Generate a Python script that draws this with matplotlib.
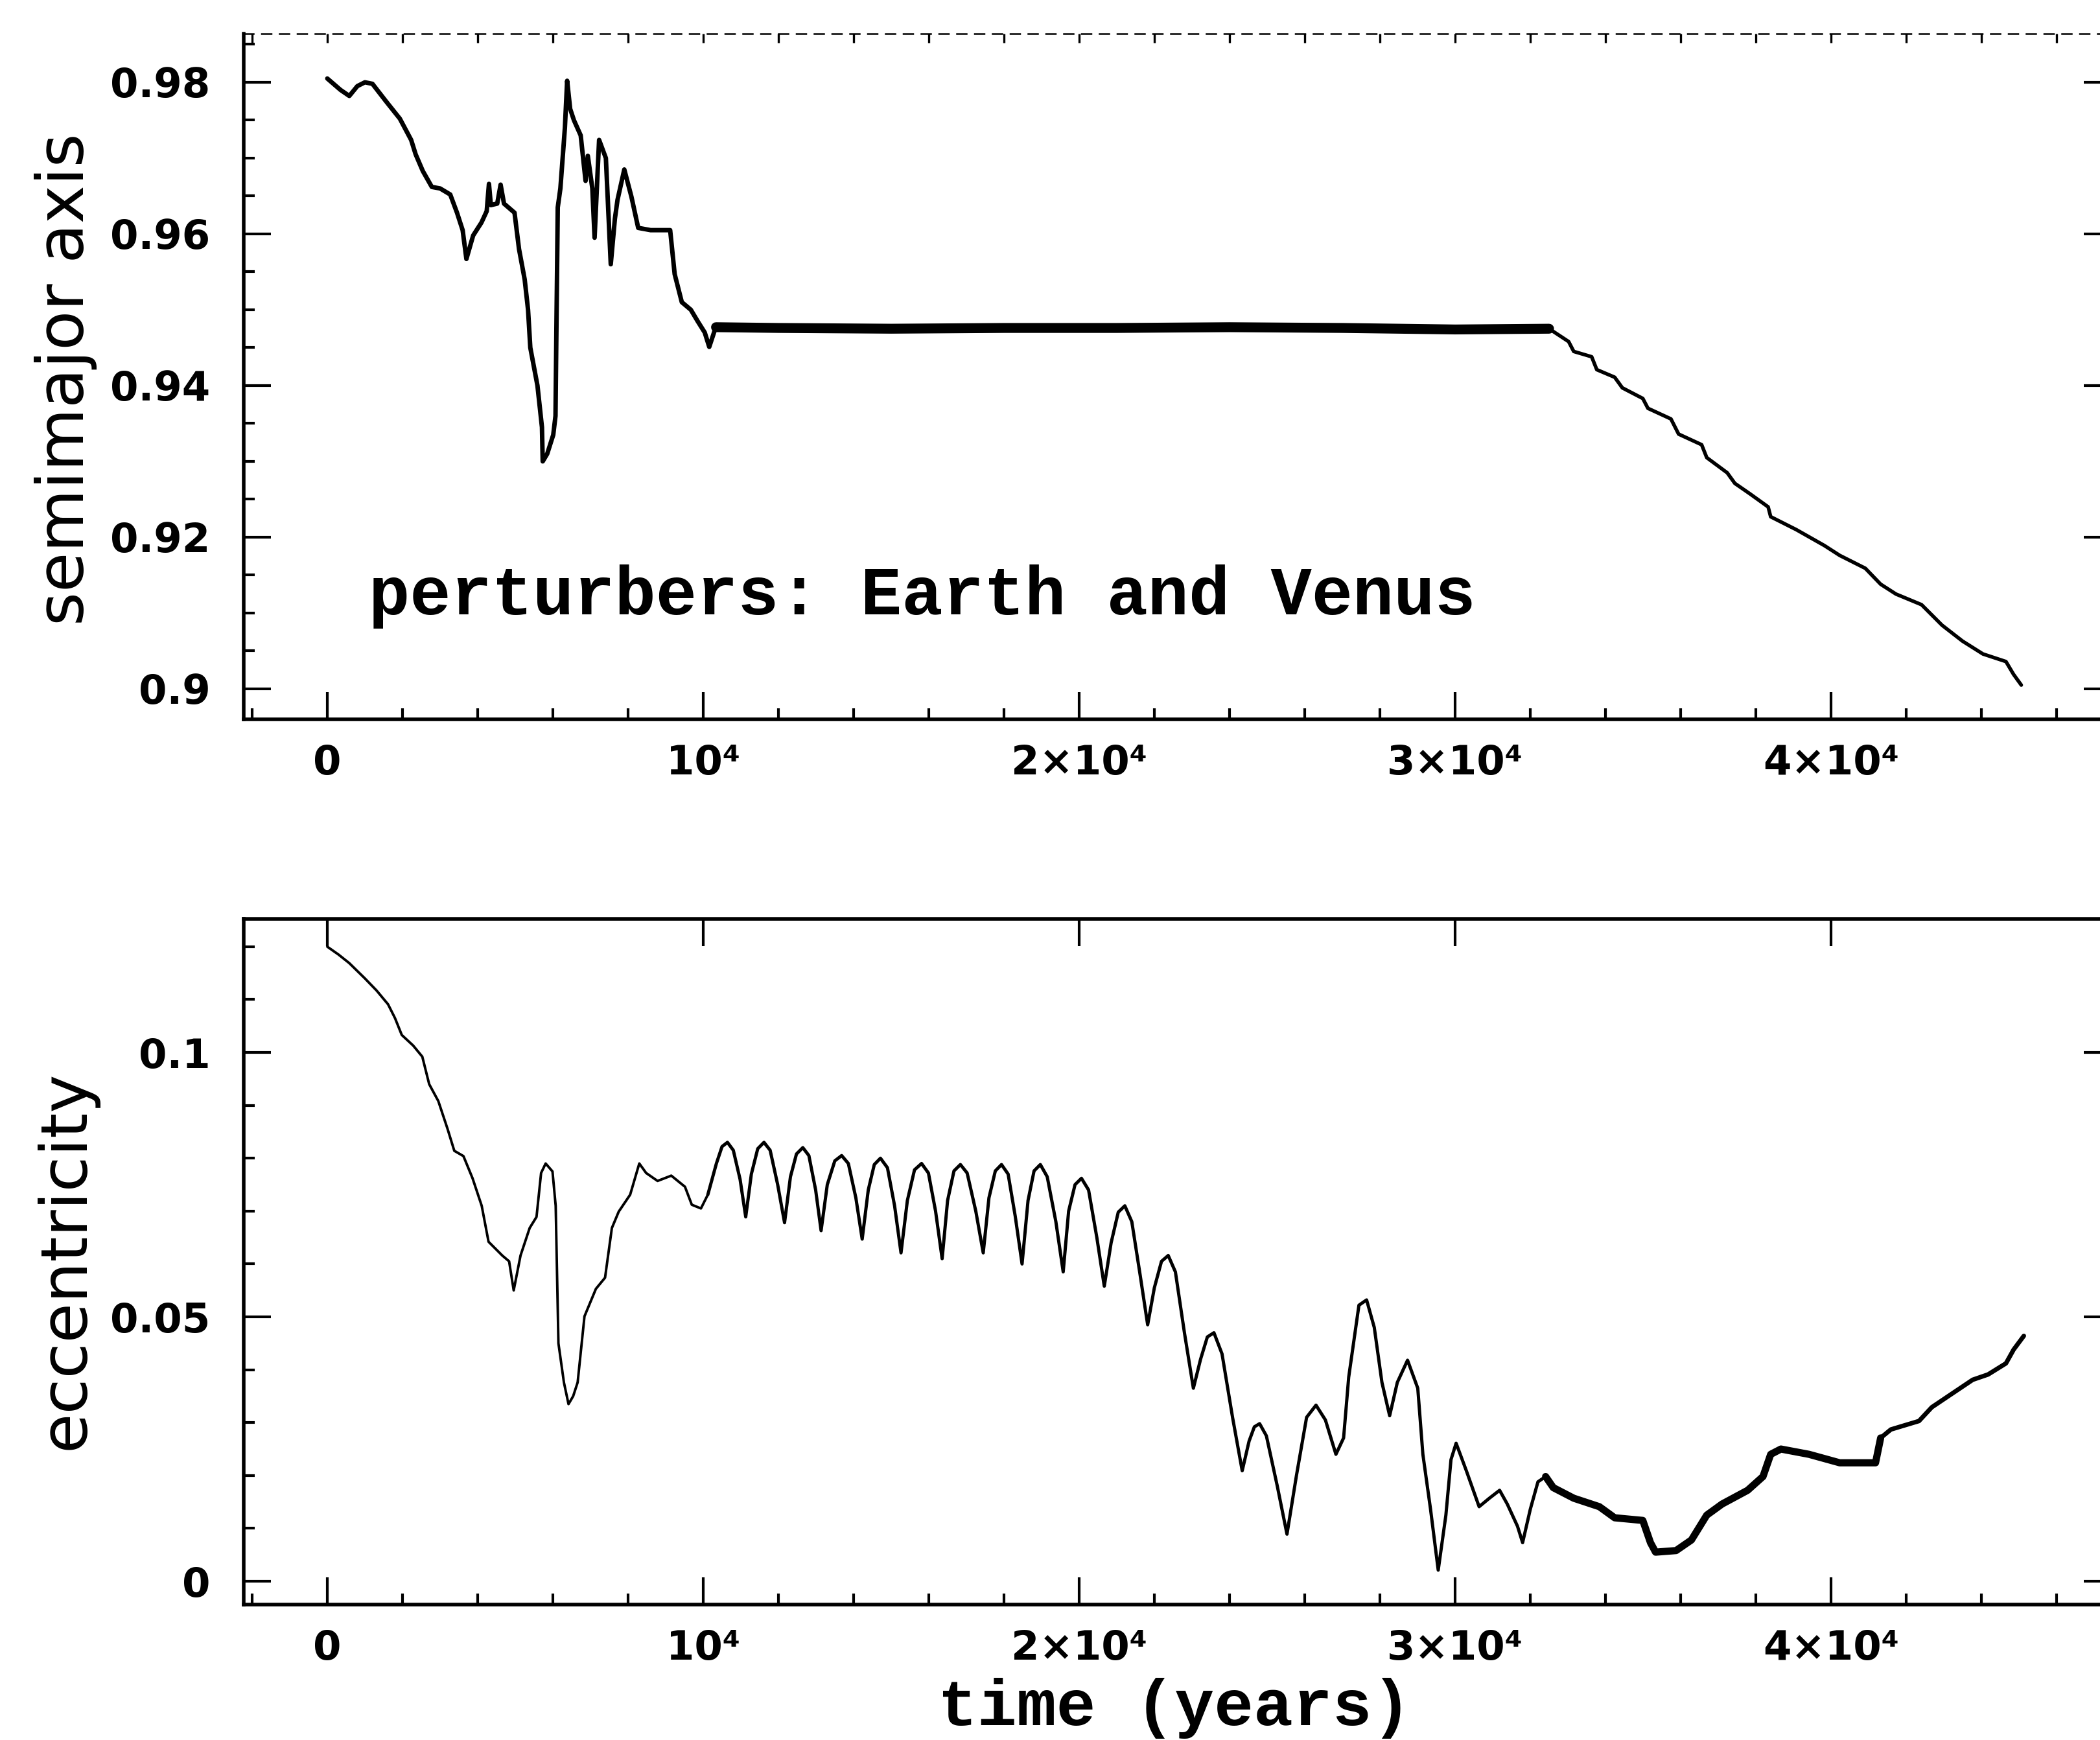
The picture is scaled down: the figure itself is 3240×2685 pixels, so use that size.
import matplotlib
matplotlib.use("Agg")
import matplotlib.pyplot as plt
from matplotlib.ticker import FixedLocator, MultipleLocator

# ---- semimajor axis (AU) vs time (years) ----
t_a_early = [0, 350, 585, 800, 1000, 1200, 1560, 1930, 2230, 2350, 2540, 2780,
             3000, 3270, 3450, 3600, 3700, 3880, 4100, 4240, 4300, 4350, 4520,
             4610, 4700, 4980, 5100, 5250, 5340, 5400, 5590, 5710, 5730, 5850,
             6010, 6070, 6100, 6130, 6200, 6320, 6380, 6460, 6560, 6740, 6870,
             6930, 7050, 7110, 7170, 7230, 7410, 7540, 7650, 7720, 7900, 8090,
             8270, 8600, 9120, 9240, 9430, 9670, 9850, 10040, 10160, 10340]
a_early = [0.9805, 0.9790, 0.9782, 0.9795, 0.9800, 0.9798, 0.9775, 0.9752,
           0.9724, 0.9705, 0.9683, 0.9662, 0.9660, 0.9652, 0.9628, 0.9605,
           0.9567, 0.9598, 0.9615, 0.9630, 0.9666, 0.9638, 0.9640, 0.9665,
           0.9640, 0.9628, 0.9580, 0.9540, 0.9500, 0.9450, 0.9400, 0.9345,
           0.9300, 0.9310, 0.9335, 0.9360, 0.9500, 0.9635, 0.9660, 0.9740,
           0.9802, 0.9765, 0.9750, 0.9730, 0.9670, 0.9703, 0.9660, 0.9595,
           0.9660, 0.9724, 0.9700, 0.9560, 0.9620, 0.9645, 0.9685, 0.9649,
           0.9608, 0.9605, 0.9605, 0.9547, 0.9510, 0.9500, 0.9485, 0.9470,
           0.9451, 0.9478]

t_a_flat = [10340, 12000, 15000, 18000, 21000, 24000, 27000, 30000, 32500]
a_flat = [0.9477, 0.9476, 0.9475, 0.9476, 0.9476, 0.9477, 0.9476, 0.9474, 0.9475]

t_a_drift = [32500, 33020, 33156, 33633, 33769, 34245, 34449, 34993, 35130,
             35742, 35946, 36558, 36694, 37238, 37442, 37850, 38327, 38395,
             39075, 39823, 40231, 40912, 41320, 41728, 42408, 42952, 43497,
             44041, 44653, 44857, 45061]
a_drift = [0.9475, 0.9458, 0.9445, 0.9438, 0.9421, 0.9411, 0.9397, 0.9383,
           0.9370, 0.9356, 0.9336, 0.9322, 0.9305, 0.9285, 0.9271, 0.9257,
           0.9240, 0.9227, 0.9210, 0.9189, 0.9176, 0.9159, 0.9138, 0.9125,
           0.9111, 0.9084, 0.9063, 0.9046, 0.9036, 0.9019, 0.9005]

# ---- eccentricity vs time ----
t_e_early = [0, 300, 583, 1000, 1312, 1616, 1800, 1981, 2284, 2527, 2710, 2953,
             3196, 3378, 3621, 3864, 4107, 4289, 4654, 4836, 4958, 5140, 5383,
             5565, 5687, 5808, 5990, 6075, 6148, 6294, 6416, 6540, 6659, 6841,
             7145, 7388, 7570, 7752, 8056, 8299, 8481, 8785, 9150, 9514, 9696,
             9939, 10122]
e_early = [0.1200, 0.1185, 0.1169, 0.1140, 0.1117, 0.1091, 0.1065, 0.1033,
           0.1013, 0.0992, 0.0940, 0.0908, 0.0856, 0.0814, 0.0804, 0.0762,
           0.0710, 0.0642, 0.0616, 0.0605, 0.0550, 0.0616, 0.0668, 0.0689,
           0.0772, 0.0790, 0.0775, 0.0710, 0.0450, 0.0376, 0.0335, 0.0350,
           0.0376, 0.0501, 0.0553, 0.0574, 0.0668, 0.0699, 0.0731, 0.0790,
           0.0772, 0.0757, 0.0767, 0.0746, 0.0712, 0.0705, 0.0731]

t_e_osc = [10122,
           10350, 10500, 10644, 10800, 10980, 11130,
           11280, 11450, 11616, 11780, 11980, 12163,
           12320, 12480, 12649, 12810, 12990, 13135,
           13300, 13500, 13682, 13860, 14060, 14228,
           14390, 14550, 14714, 14900, 15090, 15261,
           15430, 15620, 15808, 15990, 16180, 16355,
           16500, 16670, 16841, 17020, 17250, 17448,
           17600, 17770, 17934, 18110, 18300, 18481,
           18640, 18800, 18967, 19150, 19380, 19575,
           19720, 19890, 20061, 20250, 20470, 20668,
           20850, 21040, 21215, 21400, 21620, 21822,
           22000, 22190, 22369, 22560, 22800, 23038,
           23230, 23410, 23585, 23800, 24080, 24337,
           24520, 24660, 24800, 24980, 25270, 25528,
           25780, 26050, 26300, 26550, 26830,
           27034, 27170, 27442, 27646, 27850, 28054, 28259, 28463, 28735,
           29007, 29143, 29347, 29551, 29755, 29891, 30027, 30299, 30639,
           30912, 31184, 31388, 31660, 31796, 32000, 32204, 32408]
e_osc = [0.0731,
         0.0790, 0.0822, 0.0830, 0.0815, 0.0760, 0.0689,
         0.0770, 0.0818, 0.0830, 0.0815, 0.0750, 0.0678,
         0.0765, 0.0808, 0.0820, 0.0805, 0.0740, 0.0663,
         0.0750, 0.0795, 0.0805, 0.0790, 0.0725, 0.0647,
         0.0740, 0.0788, 0.0800, 0.0782, 0.0710, 0.0621,
         0.0720, 0.0778, 0.0790, 0.0772, 0.0700, 0.0610,
         0.0720, 0.0776, 0.0788, 0.0772, 0.0700, 0.0621,
         0.0725, 0.0776, 0.0788, 0.0770, 0.0690, 0.0600,
         0.0720, 0.0776, 0.0788, 0.0765, 0.0680, 0.0585,
         0.0700, 0.0750, 0.0762, 0.0740, 0.0650, 0.0558,
         0.0640, 0.0698, 0.0710, 0.0680, 0.0580, 0.0485,
         0.0555, 0.0605, 0.0616, 0.0585, 0.0470, 0.0365,
         0.0420, 0.0462, 0.0470, 0.0430, 0.0310, 0.0209,
         0.0265, 0.0292, 0.0298, 0.0275, 0.0180, 0.0089,
         0.0200, 0.0310, 0.0333, 0.0305, 0.0240,
         0.0271, 0.0386, 0.0522, 0.0532, 0.0480, 0.0376, 0.0313, 0.0376,
         0.0418, 0.0365, 0.0240, 0.0136, 0.0021, 0.0125, 0.0230, 0.0261,
         0.0209, 0.0141, 0.0157, 0.0172, 0.0146, 0.0104, 0.0073, 0.0136,
         0.0188, 0.0198]

t_e_late = [32408, 32612, 33156, 33837, 34245, 34993, 35197, 35333, 35878,
            36286, 36694, 37102, 37782, 38190, 38395, 38667, 39415, 40231,
            41184, 41320]
e_late = [0.0198, 0.0177, 0.0157, 0.0141, 0.0120, 0.0115, 0.0073, 0.0055,
          0.0058, 0.0078, 0.0125, 0.0146, 0.0172, 0.0198, 0.0240, 0.0250,
          0.0240, 0.0224, 0.0224, 0.0271]

t_e_tail = [41320, 41592, 42340, 42680, 43224, 43769, 44177, 44653, 44857, 45129]
e_tail = [0.0271, 0.0287, 0.0303, 0.0329, 0.0355, 0.0381, 0.0391, 0.0412,
          0.0438, 0.0464]

# ---- ticks ----
x_ticks = [0, 10000, 20000, 30000, 40000]
x_labels = ["0", "10\u2074", "2\u00d710\u2074", "3\u00d710\u2074", "4\u00d710\u2074"]
a_ticks = [0.90, 0.92, 0.94, 0.96, 0.98]
a_labels = ["0.9", "0.92", "0.94", "0.96", "0.98"]
e_ticks = [0.0, 0.05, 0.1]
e_labels = ["0", "0.05", "0.1"]

W, H = 3240, 2685
fig = plt.figure(figsize=(W / 100, H / 100), dpi=100)
fig.patch.set_facecolor("white")


def add_axes_px(x0, y0, x1, y1):
    return fig.add_axes([x0 / W, 1 - y1 / H, (x1 - x0) / W, (y1 - y0) / H])


ax1 = add_axes_px(376, 52, 3257, 1110)
ax2 = add_axes_px(376, 1418, 3257, 2476)

line_kw = dict(color="black", solid_joinstyle="round", solid_capstyle="round")
ax1.plot(t_a_early, a_early, lw=5, **line_kw)
ax1.plot(t_a_flat, a_flat, lw=11, **line_kw)
ax1.plot(t_a_drift, a_drift, lw=4, **line_kw)

ax2.plot(t_e_early, e_early, lw=2.8, **line_kw)
ax2.plot(t_e_osc, e_osc, lw=3.6, **line_kw)
ax2.plot(t_e_late, e_late, lw=8, **line_kw)
ax2.plot(t_e_tail, e_tail, lw=5, **line_kw)

ax1.set_ylim(0.89598, 0.98641)
ax2.set_ylim(-0.00441, 0.12525)

for ax in (ax1, ax2):
    ax.set_xlim(-2224, 47448)
    ax.set_xticks(x_ticks, labels=x_labels, fontsize=45, fontweight="bold")
    ax.xaxis.set_minor_locator(MultipleLocator(2000))
    ax.tick_params(which="both", direction="in", right=True, width=3,
                   color="black")
    ax.tick_params(which="major", length=30)
    ax.tick_params(which="minor", length=12)
    ax.tick_params(axis="x", which="major", pad=27)
    ax.tick_params(axis="y", which="major", pad=37)
    for s in ax.spines.values():
        s.set_linewidth(4.0)

ax1.set_yticks(a_ticks, labels=a_labels, fontsize=45, fontweight="bold")
ax1.yaxis.set_minor_locator(MultipleLocator(0.005))
ax2.set_yticks(e_ticks, labels=e_labels, fontsize=45, fontweight="bold")
ax2.yaxis.set_minor_locator(MultipleLocator(0.01))
ax2.tick_params(top=True)

# the upper frame of the first panel is faint and broken in the original
ax1.tick_params(top=False)
ax1.spines["top"].set_linestyle((0, (6, 5)))
ax1.spines["top"].set_linewidth(1.8)
sec = ax1.secondary_xaxis("top")
sec.set_xticks(x_ticks, labels=[])
sec.xaxis.set_minor_locator(MultipleLocator(2000))
sec.tick_params(which="both", direction="in", length=10, width=2.4)
sec.spines["top"].set_visible(False)

ax1.set_ylabel("semimajor axis", fontsize=72)
ax1.yaxis.set_label_coords(150 / W, 1 - 585 / H, transform=fig.transFigure)
ax2.set_ylabel("eccentricity", fontsize=72)
ax2.yaxis.set_label_coords(150 / W, 1 - 1944 / H, transform=fig.transFigure)

ax2.set_xlabel("time (years)", fontsize=73, family="Liberation Mono",
               fontweight="bold", va="baseline")
ax2.xaxis.set_label_coords(1812 / W, 1 - 2662 / H, transform=fig.transFigure)

ax1.text(1103, 0.9098, "perturbers: Earth and Venus", fontsize=76,
         family="Liberation Mono", fontweight="bold", ha="left", va="baseline")

fig.savefig("out.png", dpi=100, facecolor="white")
